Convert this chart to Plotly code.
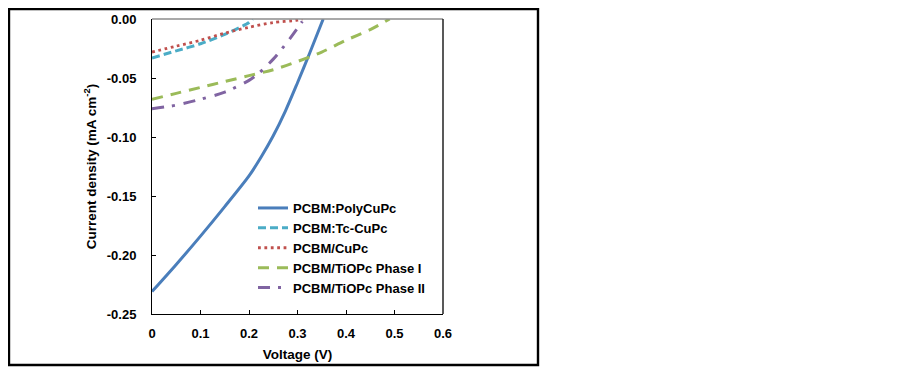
import plotly.graph_objects as go

# ---- data ----
v_poly = [0, 0.05, 0.10, 0.15, 0.20, 0.225, 0.25, 0.275, 0.30, 0.325, 0.353]
j_poly = [-0.231, -0.208, -0.184, -0.159, -0.133, -0.117, -0.099, -0.078, -0.054, -0.029, 0.0]

v_tc = [0, 0.05, 0.10, 0.15, 0.20, 0.207]
j_tc = [-0.033, -0.027, -0.021, -0.013, -0.003, 0.0]

v_cu = [0, 0.05, 0.10, 0.15, 0.20, 0.25, 0.30, 0.31]
j_cu = [-0.028, -0.023, -0.018, -0.012, -0.007, -0.003, -0.001, 0.0]

v_p1 = [0, 0.05, 0.10, 0.15, 0.20, 0.25, 0.30, 0.35, 0.40, 0.45, 0.49]
j_p1 = [-0.068, -0.063, -0.058, -0.053, -0.048, -0.043, -0.036, -0.028, -0.018, -0.009, 0.0]

v_p2 = [0, 0.05, 0.10, 0.15, 0.20, 0.22, 0.25, 0.28, 0.31]
j_p2 = [-0.076, -0.073, -0.068, -0.062, -0.052, -0.046, -0.034, -0.019, -0.002]

names = ["PCBM:PolyCuPc", "PCBM:Tc-CuPc", "PCBM/CuPc",
         "PCBM/TiOPc Phase I", "PCBM/TiOPc Phase II"]

x_ticks = [0, 0.1, 0.2, 0.3, 0.4, 0.5, 0.6]
x_tick_labels = ["0", "0.1", "0.2", "0.3", "0.4", "0.5", "0.6"]
y_ticks = [0, -0.05, -0.10, -0.15, -0.20, -0.25]
y_tick_labels = ["0.00", "-0.05", "-0.10", "-0.15", "-0.20", "-0.25"]

FONT = "Arial, 'Liberation Sans', sans-serif"

styles = [
    dict(color="#4a7ebb", width=3, dash="solid"),
    dict(color="#4bacc6", width=3, dash="8px,4px"),
    dict(color="#c0504d", width=2.8, dash="2.8px,3.6px"),
    dict(color="#9bbb59", width=3, dash="11px,8px"),
    dict(color="#8064a2", width=3, dash="12px,8px,3px,9px"),
]

series = [(v_poly, j_poly), (v_tc, j_tc), (v_cu, j_cu), (v_p1, j_p1), (v_p2, j_p2)]

fig = go.Figure()
for (vx, jy), name, st in zip(series, names, styles):
    fig.add_trace(go.Scatter(x=vx, y=jy, mode="lines", name=name,
                             line=dict(shape="spline", smoothing=0.8, **st)))

# page has an 8px body margin; figure coords = page coords - 8
OFF = 8
W, H = 902 - OFF, 368 - OFF
L, R, T, B = 152 - OFF, 443 - OFF, 19 - OFF, 314 - OFF
pw, ph = R - L, B - T

def px_x(x):
    return (x - OFF - L) / pw

def px_y(y):
    return (B - (y - OFF)) / ph

fig.update_layout(
    width=W, height=H,
    margin=dict(l=L, r=W - R, t=T, b=H - B, autoexpand=False),
    paper_bgcolor="white", plot_bgcolor="white",
    font=dict(family=FONT, size=13, color="black"),
    showlegend=True,
    legend=dict(x=px_x(253), y=px_y(193), xanchor="left", yanchor="top",
                bgcolor="rgba(0,0,0,0)", font=dict(size=13, family=FONT, color="black", weight="bold"),
                tracegroupgap=0),
    xaxis=dict(range=[0, 0.6], tickvals=x_ticks, ticktext=x_tick_labels, automargin=False,
               showgrid=False, zeroline=False, showline=True, linecolor="black", linewidth=1,
               ticks="inside", ticklen=4, tickcolor="black", ticklabelstandoff=7,
               tickfont=dict(size=13, family=FONT, weight="bold"),
               title=dict(text="Voltage (V)", font=dict(size=13.5, family=FONT, weight="bold"), standoff=9)),
    yaxis=dict(range=[-0.25, 0], tickvals=y_ticks, ticktext=y_tick_labels, automargin=False,
               showgrid=False, zeroline=False, showline=True, linecolor="black", linewidth=1,
               ticks="inside", ticklen=4, tickcolor="black", ticklabelstandoff=12,
               tickfont=dict(size=13, family=FONT, weight="bold"),
               title=dict(text="Current density (mA cm<sup>-2</sup>)",
                          font=dict(size=13.5, family=FONT, weight="bold"), standoff=7)),
    shapes=[
        dict(type="line", xref="paper", yref="paper", x0=0, x1=1, y0=1, y1=1,
             line=dict(color="#8c8c8c", width=1.5)),
        dict(type="line", xref="paper", yref="paper", x0=1, x1=1, y0=0, y1=1,
             line=dict(color="#222222", width=1.5)),
        dict(type="rect", xref="paper", yref="paper",
             x0=px_x(9), x1=px_x(538), y0=px_y(365), y1=px_y(9),
             line=dict(color="black", width=2.4), fillcolor="rgba(0,0,0,0)", layer="below"),
    ],
)

fig.write_html("out.html")
